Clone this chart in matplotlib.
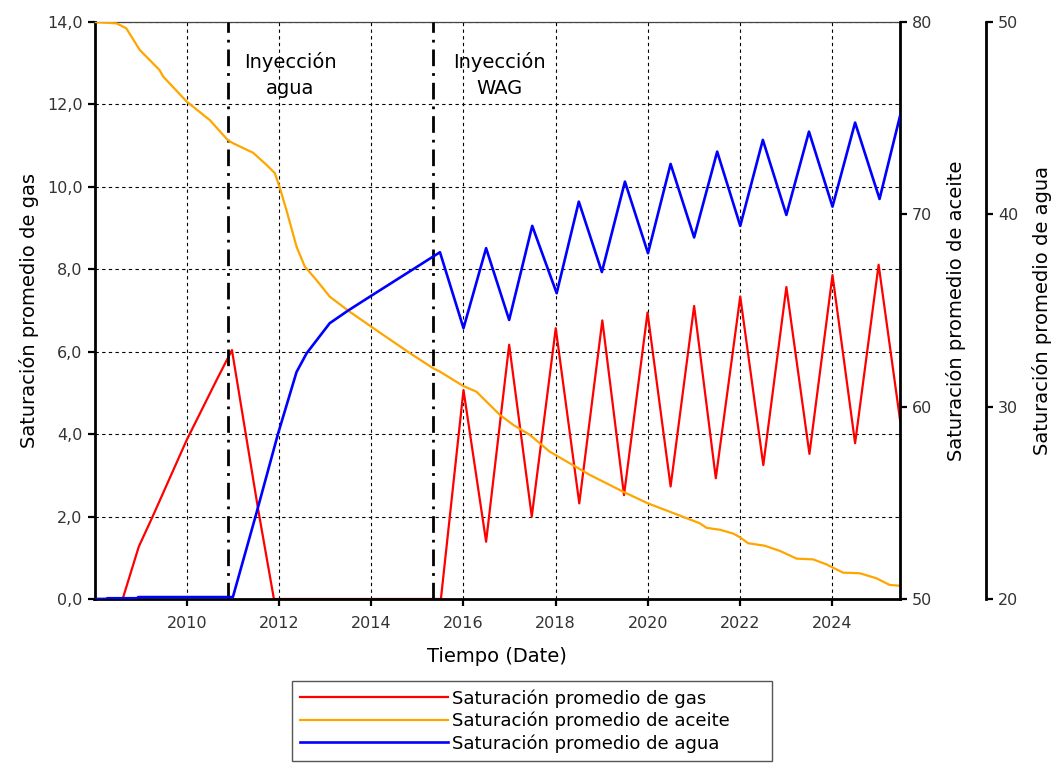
# Saturaciones promedio (gas / aceite / agua) vs tiempo - tres ejes Y

import matplotlib
matplotlib.use("Agg")
import matplotlib.pyplot as plt

# ---- datos ----
# gas (eje izquierdo, 0-14)
gas_t = [2008.0, 2008.61, 2008.96, 2009.26, 2010.0, 2010.65, 2010.98, 2011.55, 2011.89,
         2015.51, 2016.0, 2016.49, 2016.99, 2017.48, 2018.0, 2018.51, 2019.01, 2019.48,
         2019.99, 2020.49, 2021.0, 2021.47, 2022.0, 2022.5, 2023.0, 2023.5, 2024.0,
         2024.49, 2025.0, 2025.47]
gas_v = [0.0, 0.0, 1.27, 2.0, 3.86, 5.32, 6.04, 2.16, 0.0,
         0.0, 5.07, 1.39, 6.17, 2.0, 6.57, 2.32, 6.76, 2.52,
         6.95, 2.73, 7.11, 2.93, 7.34, 3.25, 7.57, 3.52, 7.86,
         3.78, 8.11, 4.3]

# aceite (primer eje derecho, 50-80)
oil_t = [2008.0, 2008.48, 2008.69, 2008.98, 2009.41, 2009.49, 2010.0, 2010.5, 2010.89,
         2011.0, 2011.44, 2011.73, 2011.91, 2012.02, 2012.16, 2012.38, 2012.56, 2012.81,
         2013.1, 2013.53, 2014.0, 2014.26, 2014.84, 2015.34, 2015.49, 2015.99, 2016.28,
         2016.79, 2017.08, 2017.44, 2017.87, 2018.3, 2018.74, 2019.46, 2019.99, 2020.47,
         2021.12, 2021.27, 2021.56, 2021.85, 2022.0, 2022.17, 2022.53, 2022.86, 2023.22,
         2023.58, 2023.87, 2024.0, 2024.23, 2024.59, 2024.95, 2025.24, 2025.46]
oil_v = [80.0, 79.93, 79.67, 78.55, 77.5, 77.16, 75.86, 74.9, 73.86,
         73.7, 73.2, 72.57, 72.14, 71.36, 70.23, 68.32, 67.28, 66.59,
         65.72, 64.94, 64.16, 63.73, 62.78, 62.0, 61.82, 61.08, 60.78,
         59.57, 59.05, 58.53, 57.66, 57.06, 56.45, 55.58, 54.98, 54.54,
         53.94, 53.7, 53.6, 53.4, 53.2, 52.9, 52.77, 52.5, 52.1,
         52.06, 51.8, 51.64, 51.37, 51.34, 51.08, 50.73, 50.69]

# agua (segundo eje derecho, 20-50)
wat_t = [2008.0, 2008.25, 2008.28, 2008.92, 2008.95, 2011.0, 2011.51, 2011.98, 2012.38,
         2012.6, 2013.1, 2013.5, 2013.99, 2015.49, 2016.0, 2016.49, 2016.99, 2017.49,
         2018.02, 2018.5, 2019.0, 2019.5, 2020.0, 2020.49, 2021.0, 2021.5, 2022.0,
         2022.49, 2023.0, 2023.49, 2024.0, 2024.49, 2025.02, 2025.47]
wat_v = [20.0, 20.0, 20.04, 20.04, 20.1, 20.1, 24.46, 28.6, 31.8,
         32.78, 34.34, 35.0, 35.75, 38.03, 34.08, 38.24, 34.51, 39.4,
         35.9, 40.66, 37.0, 41.7, 37.98, 42.62, 38.8, 43.26, 39.4,
         43.87, 39.97, 44.3, 40.4, 44.77, 40.8, 45.17]

# eventos
event_t = [2010.89, 2015.33]
event_txt = ["Inyección\nagua", "Inyección\nWAG"]
event_txt_x = [2012.25, 2016.77]

x_ticks = [2010, 2012, 2014, 2016, 2018, 2020, 2022, 2024]
gas_ticks = [0, 2, 4, 6, 8, 10, 12, 14]
gas_labels = ["0,0", "2,0", "4,0", "6,0", "8,0", "10,0", "12,0", "14,0"]
oil_ticks = [50, 60, 70, 80]
wat_ticks = [20, 30, 40, 50]

plt.rcParams['font.family'] = ['DejaVu Sans']

fig = plt.figure(figsize=(10.54, 7.64), dpi=100)
ax = fig.add_axes([94.5 / 1054, 1 - 599 / 764, (900.3 - 94.5) / 1054, (599 - 22) / 764])
ax2 = ax.twinx()
ax3 = ax.twinx()

l1, = ax.plot(gas_t, gas_v, color='#ff0000', lw=1.6, label='Saturación promedio de gas')
l2, = ax2.plot(oil_t, oil_v, color='#ffa500', lw=1.6, label='Saturación promedio de aceite')
l3, = ax3.plot(wat_t, wat_v, color='#0000ff', lw=1.9, label='Saturación promedio de agua')

ax.set_xlim(2008.0, 2025.47)
ax.set_ylim(0, 14)
ax2.set_ylim(50, 80)
ax3.set_ylim(20, 50)

ax.set_xticks(x_ticks)
ax.set_yticks(gas_ticks)
ax.set_yticklabels(gas_labels)
ax2.set_yticks(oil_ticks)
ax3.set_yticks(wat_ticks)

ax.grid(True, color='black', linestyle=(0, (3, 3)), lw=0.8)

# lineas de eventos
for t, txt, tx in zip(event_t, event_txt, event_txt_x):
    ax.axvline(t, color='black', lw=2, linestyle=(0, (6, 2.5, 1, 2.5)), zorder=3)
    ax.text(tx, 12.72, txt, ha='center', va='center', fontsize=14, linespacing=1.5)

# ejes y estilos
for a in (ax, ax2, ax3):
    a.tick_params(direction='out', length=5, width=1.6, labelsize=11.5, labelcolor='#333333')
ax.tick_params(axis='x', pad=7)
ax.spines['top'].set_linewidth(0.9)
ax.spines['top'].set_color('#444444')
ax.spines['left'].set_linewidth(2)
ax.spines['bottom'].set_linewidth(2)
ax.spines['right'].set_visible(False)
ax2.spines['right'].set_linewidth(2)
for s in ('left', 'bottom', 'top'):
    ax2.spines[s].set_visible(False)
    ax3.spines[s].set_visible(False)
ax3.spines['right'].set_position(('axes', 1 + (986 - 900.3) / (900.3 - 94.5)))
ax3.spines['right'].set_linewidth(2)

ax.set_xlabel('Tiempo (Date)', fontsize=14, labelpad=12)
ax.set_ylabel('Saturación promedio de gas', fontsize=14, labelpad=6)
ax2.set_ylabel('Saturación promedio de aceite', fontsize=14, labelpad=10)
ax3.set_ylabel('Saturación promedio de agua', fontsize=14, labelpad=10)

leg = fig.legend(handles=[l1, l2, l3], loc='upper left',
                 bbox_to_anchor=(292 / 1054, 1 - 681 / 764, (772 - 292) / 1054, 0),
                 mode='expand',
                 fontsize=13, handlelength=8.2, handletextpad=0.2,
                 labelspacing=0.22, borderpad=0.45, borderaxespad=0,
                 fancybox=False, framealpha=1)
leg.get_frame().set_edgecolor('#555555')
leg.get_frame().set_linewidth(1.0)

fig.savefig('out.png', dpi=100)
